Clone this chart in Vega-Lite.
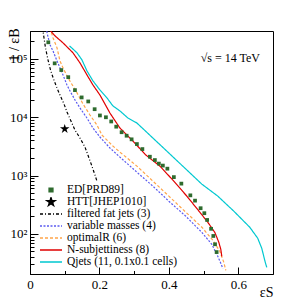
{
  "$schema": "https://vega.github.io/schema/vega-lite/v6.json",
  "width": 243,
  "height": 243,
  "autosize": {"type": "none"},
  "padding": {"left": 30, "top": 31, "right": 31, "bottom": 31},
  "background": "white",
  "config": {
    "font": "Liberation Serif",
    "view": {"stroke": "black", "strokeWidth": 1},
    "axis": {"domainColor": "black", "tickColor": "black", "labelColor": "black", "titleColor": "black", "labelFont": "Liberation Serif", "titleFont": "Liberation Serif", "titleFontWeight": "normal", "grid": false}
  },
  "title": {"text": "√s = 14 TeV", "anchor": "end", "orient": "top", "offset": -49, "dx": -13, "fontSize": 12, "fontWeight": "normal", "font": "Liberation Serif", "color": "black", "baseline": "alphabetic"},
  "data": {"values": [
    {"series": "filtered fat jets (3)", "x": 0.036, "y": 341000},
    {"series": "filtered fat jets (3)", "x": 0.0403, "y": 230000},
    {"series": "filtered fat jets (3)", "x": 0.0446, "y": 155000},
    {"series": "filtered fat jets (3)", "x": 0.0518, "y": 96100},
    {"series": "filtered fat jets (3)", "x": 0.059, "y": 64700},
    {"series": "filtered fat jets (3)", "x": 0.0676, "y": 45300},
    {"series": "filtered fat jets (3)", "x": 0.0777, "y": 31700},
    {"series": "filtered fat jets (3)", "x": 0.0863, "y": 24000},
    {"series": "filtered fat jets (3)", "x": 0.0978, "y": 16900},
    {"series": "filtered fat jets (3)", "x": 0.1065, "y": 12300},
    {"series": "filtered fat jets (3)", "x": 0.118, "y": 8600},
    {"series": "filtered fat jets (3)", "x": 0.1295, "y": 6030},
    {"series": "filtered fat jets (3)", "x": 0.1439, "y": 4400},
    {"series": "filtered fat jets (3)", "x": 0.1583, "y": 3080},
    {"series": "filtered fat jets (3)", "x": 0.1669, "y": 2240},
    {"series": "filtered fat jets (3)", "x": 0.1784, "y": 1450},
    {"series": "filtered fat jets (3)", "x": 0.1871, "y": 1020},
    {"series": "filtered fat jets (3)", "x": 0.1928, "y": 802},
    {"series": "variable masses (4)", "x": 0.046, "y": 341000},
    {"series": "variable masses (4)", "x": 0.0505, "y": 258000},
    {"series": "variable masses (4)", "x": 0.0576, "y": 174000},
    {"series": "variable masses (4)", "x": 0.0662, "y": 137000},
    {"series": "variable masses (4)", "x": 0.0777, "y": 92500},
    {"series": "variable masses (4)", "x": 0.0863, "y": 70000},
    {"series": "variable masses (4)", "x": 0.095, "y": 53100},
    {"series": "variable masses (4)", "x": 0.1065, "y": 35700},
    {"series": "variable masses (4)", "x": 0.1151, "y": 28200},
    {"series": "variable masses (4)", "x": 0.1295, "y": 19800},
    {"series": "variable masses (4)", "x": 0.1439, "y": 14400},
    {"series": "variable masses (4)", "x": 0.164, "y": 9690},
    {"series": "variable masses (4)", "x": 0.1813, "y": 6520},
    {"series": "variable masses (4)", "x": 0.2014, "y": 4570},
    {"series": "variable masses (4)", "x": 0.2302, "y": 2960},
    {"series": "variable masses (4)", "x": 0.259, "y": 2070},
    {"series": "variable masses (4)", "x": 0.3079, "y": 1140},
    {"series": "variable masses (4)", "x": 0.354, "y": 658},
    {"series": "variable masses (4)", "x": 0.4, "y": 363},
    {"series": "variable masses (4)", "x": 0.4489, "y": 200},
    {"series": "variable masses (4)", "x": 0.495, "y": 106},
    {"series": "variable masses (4)", "x": 0.5237, "y": 66.2},
    {"series": "variable masses (4)", "x": 0.541, "y": 41.2},
    {"series": "variable masses (4)", "x": 0.5496, "y": 31.3},
    {"series": "variable masses (4)", "x": 0.5554, "y": 25.6},
    {"series": "optimalR (6)", "x": 0.0576, "y": 341000},
    {"series": "optimalR (6)", "x": 0.0662, "y": 230000},
    {"series": "optimalR (6)", "x": 0.0777, "y": 155000},
    {"series": "optimalR (6)", "x": 0.0863, "y": 92500},
    {"series": "optimalR (6)", "x": 0.095, "y": 70000},
    {"series": "optimalR (6)", "x": 0.1094, "y": 47200},
    {"series": "optimalR (6)", "x": 0.1324, "y": 28200},
    {"series": "optimalR (6)", "x": 0.1525, "y": 16900},
    {"series": "optimalR (6)", "x": 0.1727, "y": 10900},
    {"series": "optimalR (6)", "x": 0.1928, "y": 7350},
    {"series": "optimalR (6)", "x": 0.2072, "y": 4940},
    {"series": "optimalR (6)", "x": 0.2388, "y": 3200},
    {"series": "optimalR (6)", "x": 0.259, "y": 2520},
    {"series": "optimalR (6)", "x": 0.3079, "y": 1450},
    {"series": "optimalR (6)", "x": 0.354, "y": 802},
    {"series": "optimalR (6)", "x": 0.4, "y": 443},
    {"series": "optimalR (6)", "x": 0.4489, "y": 235},
    {"series": "optimalR (6)", "x": 0.495, "y": 130},
    {"series": "optimalR (6)", "x": 0.5266, "y": 77.6},
    {"series": "optimalR (6)", "x": 0.5468, "y": 50.3},
    {"series": "optimalR (6)", "x": 0.5583, "y": 32.5},
    {"series": "optimalR (6)", "x": 0.564, "y": 23.7},
    {"series": "N-subjettiness (8)", "x": 0.0518, "y": 341000},
    {"series": "N-subjettiness (8)", "x": 0.0719, "y": 248000},
    {"series": "N-subjettiness (8)", "x": 0.095, "y": 188000},
    {"series": "N-subjettiness (8)", "x": 0.1237, "y": 127000},
    {"series": "N-subjettiness (8)", "x": 0.1439, "y": 85300},
    {"series": "N-subjettiness (8)", "x": 0.164, "y": 53100},
    {"series": "N-subjettiness (8)", "x": 0.1813, "y": 35700},
    {"series": "N-subjettiness (8)", "x": 0.2014, "y": 24000},
    {"series": "N-subjettiness (8)", "x": 0.2302, "y": 11800},
    {"series": "N-subjettiness (8)", "x": 0.259, "y": 6520},
    {"series": "N-subjettiness (8)", "x": 0.2964, "y": 3900},
    {"series": "N-subjettiness (8)", "x": 0.3338, "y": 2240},
    {"series": "N-subjettiness (8)", "x": 0.3741, "y": 1450},
    {"series": "N-subjettiness (8)", "x": 0.4115, "y": 834},
    {"series": "N-subjettiness (8)", "x": 0.4518, "y": 443},
    {"series": "N-subjettiness (8)", "x": 0.4892, "y": 235},
    {"series": "N-subjettiness (8)", "x": 0.5122, "y": 158},
    {"series": "N-subjettiness (8)", "x": 0.5324, "y": 106},
    {"series": "N-subjettiness (8)", "x": 0.5439, "y": 71.7},
    {"series": "N-subjettiness (8)", "x": 0.5496, "y": 54.3},
    {"series": "N-subjettiness (8)", "x": 0.5525, "y": 41.2},
    {"series": "Qjets (11, 0.1x0.1 cells)", "x": 0.1137, "y": 167000},
    {"series": "Qjets (11, 0.1x0.1 cells)", "x": 0.1353, "y": 127000},
    {"series": "Qjets (11, 0.1x0.1 cells)", "x": 0.1496, "y": 96100},
    {"series": "Qjets (11, 0.1x0.1 cells)", "x": 0.164, "y": 62200},
    {"series": "Qjets (11, 0.1x0.1 cells)", "x": 0.1813, "y": 41900},
    {"series": "Qjets (11, 0.1x0.1 cells)", "x": 0.2014, "y": 29300},
    {"series": "Qjets (11, 0.1x0.1 cells)", "x": 0.2216, "y": 21400},
    {"series": "Qjets (11, 0.1x0.1 cells)", "x": 0.2388, "y": 15600},
    {"series": "Qjets (11, 0.1x0.1 cells)", "x": 0.259, "y": 12800},
    {"series": "Qjets (11, 0.1x0.1 cells)", "x": 0.282, "y": 9690},
    {"series": "Qjets (11, 0.1x0.1 cells)", "x": 0.3079, "y": 7950},
    {"series": "Qjets (11, 0.1x0.1 cells)", "x": 0.354, "y": 4390},
    {"series": "Qjets (11, 0.1x0.1 cells)", "x": 0.4, "y": 2430},
    {"series": "Qjets (11, 0.1x0.1 cells)", "x": 0.446, "y": 1340},
    {"series": "Qjets (11, 0.1x0.1 cells)", "x": 0.495, "y": 711},
    {"series": "Qjets (11, 0.1x0.1 cells)", "x": 0.541, "y": 443},
    {"series": "Qjets (11, 0.1x0.1 cells)", "x": 0.587, "y": 245},
    {"series": "Qjets (11, 0.1x0.1 cells)", "x": 0.633, "y": 130},
    {"series": "Qjets (11, 0.1x0.1 cells)", "x": 0.656, "y": 84},
    {"series": "Qjets (11, 0.1x0.1 cells)", "x": 0.6676, "y": 56.6},
    {"series": "Qjets (11, 0.1x0.1 cells)", "x": 0.6734, "y": 41.2},
    {"series": "Qjets (11, 0.1x0.1 cells)", "x": 0.6777, "y": 32.5},
    {"series": "Qjets (11, 0.1x0.1 cells)", "x": 0.682, "y": 26.7},
    {"series": "ED[PRD89]", "x": 0.0527, "y": 192000},
    {"series": "ED[PRD89]", "x": 0.0711, "y": 83700},
    {"series": "ED[PRD89]", "x": 0.0901, "y": 64200},
    {"series": "ED[PRD89]", "x": 0.1102, "y": 48500},
    {"series": "ED[PRD89]", "x": 0.1295, "y": 29100},
    {"series": "ED[PRD89]", "x": 0.1488, "y": 21800},
    {"series": "ED[PRD89]", "x": 0.1678, "y": 18600},
    {"series": "ED[PRD89]", "x": 0.1862, "y": 13700},
    {"series": "ED[PRD89]", "x": 0.2014, "y": 10700},
    {"series": "ED[PRD89]", "x": 0.2187, "y": 9960},
    {"series": "ED[PRD89]", "x": 0.234, "y": 8440},
    {"series": "ED[PRD89]", "x": 0.2484, "y": 6870},
    {"series": "ED[PRD89]", "x": 0.2639, "y": 5520},
    {"series": "ED[PRD89]", "x": 0.2783, "y": 4810},
    {"series": "ED[PRD89]", "x": 0.2927, "y": 4170},
    {"series": "ED[PRD89]", "x": 0.3079, "y": 3460},
    {"series": "ED[PRD89]", "x": 0.3237, "y": 2840},
    {"series": "ED[PRD89]", "x": 0.3453, "y": 2100},
    {"series": "ED[PRD89]", "x": 0.3597, "y": 1840},
    {"series": "ED[PRD89]", "x": 0.3712, "y": 1600},
    {"series": "ED[PRD89]", "x": 0.3827, "y": 1480},
    {"series": "ED[PRD89]", "x": 0.3957, "y": 1310},
    {"series": "ED[PRD89]", "x": 0.4144, "y": 939},
    {"series": "ED[PRD89]", "x": 0.436, "y": 726},
    {"series": "ED[PRD89]", "x": 0.4619, "y": 457},
    {"series": "ED[PRD89]", "x": 0.4754, "y": 371},
    {"series": "ED[PRD89]", "x": 0.4915, "y": 275},
    {"series": "ED[PRD89]", "x": 0.5022, "y": 226},
    {"series": "ED[PRD89]", "x": 0.5102, "y": 173},
    {"series": "ED[PRD89]", "x": 0.5217, "y": 122},
    {"series": "ED[PRD89]", "x": 0.5281, "y": 92},
    {"series": "ED[PRD89]", "x": 0.533, "y": 66.3},
    {"series": "ED[PRD89]", "x": 0.5376, "y": 48.7},
    {"series": "HTT[JHEP1010]", "x": 0.1, "y": 6300}
  ]},
  "layer": [
    {
      "transform": [{"filter": {"field": "series", "oneOf": ["filtered fat jets (3)", "variable masses (4)", "optimalR (6)", "N-subjettiness (8)", "Qjets (11, 0.1x0.1 cells)"]}}],
      "mark": {"type": "line", "clip": true, "strokeWidth": 1.2},
      "encoding": {
        "x": {"field": "x", "type": "quantitative", "scale": {"domain": [0, 0.7], "nice": false, "zero": false},
          "axis": {"values": [0, 0.05, 0.1, 0.15, 0.2, 0.25, 0.3, 0.35, 0.4, 0.45, 0.5, 0.55, 0.6, 0.65],
            "labelExpr": "datum.value === 0 ? '0' : datum.value === 0.2 ? '0.2' : datum.value === 0.4 ? '0.4' : datum.value === 0.6 ? '0.6' : ''",
            "tickSize": {"condition": {"test": "datum.value === 0 || datum.value === 0.2 || datum.value === 0.4 || datum.value === 0.6", "value": -7}, "value": -3.5},
            "labelPadding": 11, "labelFontSize": 13, "labelFlush": false, "labelOverlap": false,
            "title": "εS", "titleAnchor": "end", "titleFontSize": 14, "titleY": 22, "titleBaseline": "alphabetic"}},
        "y": {"field": "y", "type": "quantitative", "scale": {"type": "log", "domain": [20.5, 300000], "nice": false},
          "axis": {"values": [30, 40, 50, 60, 70, 80, 90, 100, 200, 300, 400, 500, 600, 700, 800, 900, 1000, 2000, 3000, 4000, 5000, 6000, 7000, 8000, 9000, 10000, 20000, 30000, 40000, 50000, 60000, 70000, 80000, 90000, 100000, 200000, 300000],
            "labelExpr": "datum.value === 100 ? '10²' : datum.value === 1000 ? '10³' : datum.value === 10000 ? '10⁴' : datum.value === 100000 ? '10⁵' : ''",
            "tickSize": {"condition": {"test": "datum.value === 100 || datum.value === 1000 || datum.value === 10000 || datum.value === 100000", "value": -8}, "value": -4},
            "labelPadding": 11, "labelFontSize": 13, "labelOverlap": false,
            "title": "1 / εB", "titleAnchor": "end", "titleAngle": -90, "titleFontSize": 14, "titleX": -12, "titleY": -3, "titleAlign": "right", "titleBaseline": "alphabetic"}},
        "color": {"field": "series", "type": "nominal",
          "scale": {"domain": ["ED[PRD89]", "HTT[JHEP1010]", "filtered fat jets (3)", "variable masses (4)", "optimalR (6)", "N-subjettiness (8)", "Qjets (11, 0.1x0.1 cells)"],
            "range": ["#2e6b2e", "#000000", "#000000", "#5b5bf0", "#ffa54a", "#e00000", "#00c8d0"]},
          "legend": {"orient": "none", "legendX": 9, "legendY": 154, "title": null, "padding": 0, "rowPadding": 0, "clipHeight": 10, "symbolSize": 484, "symbolType": "stroke",
            "labelFont": "Liberation Serif", "labelFontSize": 11.5, "labelColor": "black", "labelOffset": 4, "labelLimit": 200, "symbolStrokeWidth": 1.5,
            "encode": {"symbols": {"update": {
              "shape": {"signal": "datum.value === 'ED[PRD89]' ? 'square' : datum.value === 'HTT[JHEP1010]' ? 'M0,-1L0.2234,-0.3074L0.9511,-0.309L0.3614,0.1174L0.5878,0.809L0,0.38L-0.5878,0.809L-0.3614,0.1174L-0.9511,-0.309L-0.2234,-0.3074Z' : 'stroke'"},
              "size": {"signal": "datum.value === 'ED[PRD89]' ? 14 : datum.value === 'HTT[JHEP1010]' ? 70 : 484"},
              "fill": {"signal": "datum.value === 'ED[PRD89]' ? '#2e6b2e' : datum.value === 'HTT[JHEP1010]' ? '#000000' : 'transparent'"},
              "stroke": {"signal": "datum.value === 'ED[PRD89]' || datum.value === 'HTT[JHEP1010]' ? 'transparent' : scale('color', datum.value)"},
              "strokeDash": {"signal": "datum.value === 'filtered fat jets (3)' ? [3,2,1,2] : datum.value === 'variable masses (4)' ? [2,1.5] : datum.value === 'optimalR (6)' ? [3,2] : [1,0]"},
              "strokeWidth": {"value": 1.5},
              "opacity": {"value": 1}
            }}}}},
        "strokeDash": {"field": "series", "type": "nominal",
          "scale": {"domain": ["ED[PRD89]", "HTT[JHEP1010]", "filtered fat jets (3)", "variable masses (4)", "optimalR (6)", "N-subjettiness (8)", "Qjets (11, 0.1x0.1 cells)"],
            "range": [[1, 0], [1, 0], [3, 2, 1, 2], [2, 1.5], [3, 2], [1, 0], [1, 0]]},
          "legend": null}
      }
    },
    {
      "transform": [{"filter": {"field": "series", "equal": "ED[PRD89]"}}],
      "mark": {"type": "point", "shape": "square", "filled": true, "size": 14, "opacity": 1, "clip": true},
      "encoding": {
        "x": {"field": "x", "type": "quantitative"},
        "y": {"field": "y", "type": "quantitative"},
        "color": {"field": "series", "type": "nominal"}
      }
    },
    {
      "transform": [{"filter": {"field": "series", "equal": "HTT[JHEP1010]"}}],
      "mark": {"type": "point", "shape": "M0,-1L0.2234,-0.3074L0.9511,-0.309L0.3614,0.1174L0.5878,0.809L0,0.38L-0.5878,0.809L-0.3614,0.1174L-0.9511,-0.309L-0.2234,-0.3074Z", "filled": true, "size": 100, "opacity": 1, "clip": true},
      "encoding": {
        "x": {"field": "x", "type": "quantitative"},
        "y": {"field": "y", "type": "quantitative"},
        "color": {"field": "series", "type": "nominal"}
      }
    }
  ]
}
